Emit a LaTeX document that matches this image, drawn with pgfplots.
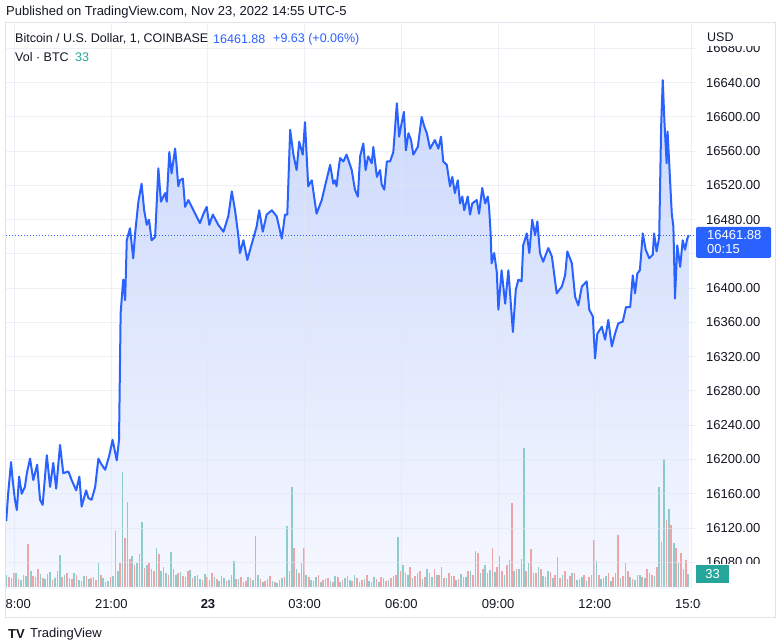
\documentclass[border=0pt]{standalone}
\usepackage{pgfplots}
\pgfplotsset{compat=1.18}
\usepackage{pgfplotstable}
\usepackage{fontspec}
\setmainfont{Liberation Sans}
\definecolor{tvblue}{RGB}{41,98,255}
\definecolor{tvteal}{RGB}{38,166,154}
\definecolor{tvred}{RGB}{239,83,80}
\definecolor{tvtext}{RGB}{19,23,34}
\definecolor{tvgrid}{RGB}{226,230,240}
\definecolor{tvframe}{RGB}{224,227,235}
\definecolor{filltop}{RGB}{203,216,252}
\definecolor{fillbot}{RGB}{246,248,255}

\pgfplotstableread{
h p
-0.26 16128
-0.20 16160
-0.11 16197
-0.06 16176
0.01 16153
0.07 16141
0.14 16180
0.22 16160
0.32 16168
0.38 16184
0.48 16201
0.58 16176
0.70 16194
0.79 16153
0.87 16147
1.00 16205
1.10 16168
1.20 16196
1.29 16166
1.41 16217
1.51 16184
1.67 16186
1.77 16176
1.91 16164
2.01 16180
2.08 16145
2.22 16164
2.29 16155
2.39 16153
2.50 16168
2.60 16201
2.70 16194
2.81 16188
2.94 16205
3.04 16223
3.17 16199
3.24 16223
3.29 16371
3.37 16410
3.43 16386
3.48 16456
3.58 16470
3.68 16435
3.74 16464
3.84 16501
3.94 16522
4.02 16491
4.10 16474
4.17 16480
4.25 16456
4.36 16460
4.46 16540
4.54 16501
4.67 16511
4.72 16501
4.80 16559
4.87 16534
4.98 16563
5.03 16542
5.08 16519
5.13 16526
5.22 16528
5.29 16495
5.39 16503
5.55 16491
5.75 16476
5.86 16487
5.96 16495
6.04 16474
6.15 16486
6.32 16474
6.48 16466
6.63 16484
6.74 16513
6.84 16491
6.94 16462
6.99 16441
7.10 16456
7.22 16433
7.36 16452
7.51 16472
7.59 16491
7.70 16466
7.82 16486
7.98 16491
8.13 16484
8.29 16458
8.39 16486
8.46 16486
8.55 16585
8.65 16556
8.75 16538
8.83 16571
8.94 16556
9.01 16594
9.11 16519
9.22 16526
9.37 16487
9.53 16503
9.63 16519
9.79 16544
9.89 16522
9.94 16526
9.99 16519
10.04 16536
10.10 16552
10.20 16548
10.30 16556
10.46 16538
10.56 16515
10.65 16507
10.72 16554
10.82 16569
10.89 16538
10.97 16554
11.08 16546
11.13 16565
11.24 16530
11.34 16538
11.39 16521
11.47 16515
11.55 16548
11.65 16548
11.75 16559
11.86 16616
11.93 16577
12.01 16593
12.08 16606
12.14 16561
12.22 16581
12.30 16573
12.37 16556
12.51 16565
12.63 16600
12.71 16589
12.79 16581
12.89 16563
13.04 16573
13.15 16563
13.23 16577
13.30 16548
13.41 16544
13.51 16519
13.58 16530
13.66 16511
13.75 16526
13.82 16499
13.89 16507
13.95 16491
14.06 16507
14.13 16486
14.20 16499
14.34 16503
14.41 16487
14.51 16517
14.60 16499
14.68 16507
14.72 16495
14.77 16464
14.80 16429
14.88 16441
14.96 16419
15.01 16375
15.11 16421
15.22 16382
15.32 16421
15.46 16349
15.55 16398
15.63 16410
15.73 16408
15.78 16450
15.89 16464
15.97 16441
16.06 16480
16.15 16462
16.22 16478
16.30 16441
16.40 16431
16.56 16447
16.67 16437
16.82 16394
16.98 16402
17.08 16415
17.15 16443
17.29 16429
17.39 16390
17.49 16380
17.60 16402
17.75 16408
17.83 16375
17.94 16367
18.01 16318
18.08 16347
18.22 16355
18.32 16340
18.42 16363
18.53 16332
18.63 16347
18.73 16359
18.87 16361
18.97 16378
19.10 16378
19.18 16415
19.25 16394
19.32 16417
19.40 16421
19.49 16464
19.58 16445
19.69 16435
19.80 16439
19.84 16464
19.92 16443
20.00 16460
20.06 16589
20.11 16643
20.16 16596
20.23 16546
20.26 16583
20.31 16546
20.39 16487
20.44 16472
20.49 16388
20.56 16450
20.65 16425
20.73 16456
20.80 16445
20.87 16458
20.92 16461.88
}\pricedata

\pgfplotsset{tvbase/.style={at={(6pt,55pt)}, anchor=south west, scale only axis,
  width=690pt, height=566pt, xmin=-0.2668, xmax=21.1418}}

\begin{document}
\begin{tikzpicture}[x=1pt,y=1pt]
\path[use as bounding box, fill=white] (0,0) rectangle (779,644);

% area fill
\begin{axis}[tvbase, ymin=16048.8, ymax=16709.7, hide axis]
\addplot[draw=none, top color=filltop, bottom color=fillbot] table[x=h,y=p]{\pricedata}
  -- (axis cs:20.92,16048.8) -- (axis cs:-0.26,16048.8) -- cycle;
\end{axis}

% volume
\begin{axis}[tvbase, ymin=-5, ymax=1432, hide axis]
\addplot[ycomb, draw=tvteal, opacity=0.5, line width=1.6pt, mark=none] coordinates {
(-0.25,30) (-0.10,22) (0.05,35) (0.20,18) (0.35,28) (0.50,40) (0.65,25) (0.80,32) (0.95,20) (1.10,38) (1.25,24) (1.40,81) (1.55,30) (1.70,22) (1.85,35) (2.00,18) (2.15,27) (2.30,20) (2.45,25) (2.60,61) (2.75,22) (2.90,15) (3.05,28) (3.20,40) (3.35,292) (3.50,216) (3.65,80) (3.80,60) (3.95,165) (4.10,55) (4.25,45) (4.40,99) (4.55,40) (4.70,35) (4.85,89) (5.00,30) (5.15,38) (5.30,25) (5.45,42) (5.60,28) (5.75,20) (5.90,33) (6.05,18) (6.20,25) (6.35,15) (6.50,22) (6.65,18) (6.80,66) (6.95,20) (7.10,14) (7.25,25) (7.40,18) (7.55,30) (7.70,12) (7.85,20) (8.00,15) (8.15,10) (8.30,22) (8.45,155) (8.60,254) (8.75,45) (8.90,61) (9.05,30) (9.20,18) (9.35,25) (9.50,12) (9.65,20) (9.80,15) (9.95,28) (10.10,14) (10.25,22) (10.40,18) (10.55,30) (10.70,12) (10.85,20) (11.00,16) (11.15,25) (11.30,14) (11.45,22) (11.60,18) (11.75,28) (11.90,127) (12.05,56) (12.20,30) (12.35,24) (12.50,35) (12.65,20) (12.80,45) (12.95,25) (13.10,30) (13.25,51) (13.40,22) (13.55,28) (13.70,18) (13.85,32) (14.00,25) (14.15,40) (14.30,91) (14.45,35) (14.60,55) (14.75,42) (14.90,38) (15.05,79) (15.20,30) (15.35,68) (15.50,40) (15.65,45) (15.80,353) (15.95,60) (16.10,35) (16.25,50) (16.40,28) (16.55,40) (16.70,22) (16.85,76) (17.00,30) (17.15,20) (17.30,35) (17.45,18) (17.60,25) (17.75,15) (17.90,30) (18.05,66) (18.20,20) (18.35,28) (18.50,15) (18.65,35) (18.80,22) (18.95,61) (19.10,25) (19.25,18) (19.40,30) (19.55,22) (19.70,35) (19.85,28) (20.00,254) (20.15,325) (20.30,198) (20.45,112) (20.60,60) (20.75,45) (20.90,33)
};
\addplot[ycomb, draw=tvred, opacity=0.5, line width=1.6pt, mark=none] coordinates {
(-0.175,25) (-0.025,35) (0.125,20) (0.275,30) (0.425,110) (0.575,28) (0.725,45) (0.875,22) (1.025,33) (1.175,18) (1.325,40) (1.475,26) (1.625,35) (1.775,20) (1.925,30) (2.075,15) (2.225,28) (2.375,22) (2.525,18) (2.675,30) (2.825,12) (2.975,25) (3.125,142) (3.275,60) (3.425,124) (3.575,70) (3.725,55) (3.875,85) (4.025,48) (4.175,60) (4.325,40) (4.475,84) (4.625,50) (4.775,30) (4.925,45) (5.075,35) (5.225,28) (5.375,40) (5.525,22) (5.675,30) (5.825,18) (5.975,26) (6.125,35) (6.275,20) (6.425,28) (6.575,15) (6.725,30) (6.875,20) (7.025,25) (7.175,16) (7.325,22) (7.475,129) (7.625,20) (7.775,15) (7.925,28) (8.075,12) (8.225,18) (8.375,25) (8.525,40) (8.675,99) (8.825,35) (8.975,99) (9.125,25) (9.275,15) (9.425,30) (9.575,18) (9.725,22) (9.875,14) (10.025,25) (10.175,18) (10.325,28) (10.475,15) (10.625,22) (10.775,18) (10.925,30) (11.075,12) (11.225,20) (11.375,25) (11.525,15) (11.675,22) (11.825,30) (11.975,40) (12.125,35) (12.275,50) (12.425,28) (12.575,40) (12.725,25) (12.875,35) (13.025,45) (13.175,30) (13.325,22) (13.475,35) (13.625,28) (13.775,20) (13.925,25) (14.075,40) (14.225,30) (14.375,86) (14.525,45) (14.675,35) (14.825,99) (14.975,50) (15.125,40) (15.275,55) (15.425,213) (15.575,45) (15.725,70) (15.875,40) (16.025,96) (16.175,35) (16.325,45) (16.475,25) (16.625,38) (16.775,30) (16.925,22) (17.075,40) (17.225,28) (17.375,35) (17.525,20) (17.675,30) (17.825,25) (17.975,119) (18.125,30) (18.275,22) (18.425,35) (18.575,25) (18.725,132) (18.875,28) (19.025,40) (19.175,20) (19.325,30) (19.475,25) (19.625,45) (19.775,30) (19.925,50) (20.075,115) (20.225,170) (20.375,157) (20.525,99) (20.675,86) (20.825,69)
};
\end{axis}

% main axis: grid, labels, line
\begin{axis}[tvbase, ymin=16048.8, ymax=16709.7,
  axis line style={draw=none}, major tick length=0pt,
  grid=major, grid style={tvgrid, line width=1pt, opacity=0.6},
  scaled y ticks=false,
  /pgf/number format/assume math mode=true,
  xtick={0,3,6,9,12,15,18,21},
  xticklabels={18:00,21:00,\textbf{23},03:00,06:00,09:00,12:00,15:00},
  xticklabel style={font=\fontsize{13}{15}\selectfont, text=tvtext, anchor=center, yshift=-15pt},
  ytick={16080,16120,16160,16200,16240,16280,16320,16360,16400,16480,16520,16560,16600,16640,16680},
  extra y ticks={16440}, extra y tick labels={},
  extra y tick style={grid=major, major tick length=0pt},
  yticklabel pos=right,
  yticklabel style={font=\fontsize{13}{15}\selectfont, text=tvtext, anchor=west, inner sep=0pt, xshift=10pt,
    /pgf/number format/fixed, /pgf/number format/fixed zerofill,
    /pgf/number format/precision=2, /pgf/number format/1000 sep={}},
]
\addplot[tvblue, line width=0.9pt, dash pattern=on 1pt off 2pt] coordinates {(-0.2668,16461.88) (21.1418,16461.88)};
\addplot[tvblue, line width=2pt, line join=round, mark=none] table[x=h,y=p]{\pricedata};
\end{axis}

% covers of the price scale and time scale
\fill[white] (697,598) rectangle (776,621);
\fill[white] (697,55) rectangle (776,79.5);
\fill[white] (0,26) rectangle (5.5,55);
\fill[white] (700.5,26) rectangle (776,55);

% frame
\draw[tvframe, line width=1pt] (5.5,26) rectangle (775,621);

% price scale header and labels
\node[anchor=west, inner sep=0pt, text=tvtext, font=\fontsize{12.5}{15}\selectfont] at (707,607) {USD};
\fill[tvblue, rounded corners=1.5pt] (696,386) rectangle (771,417);
\node[anchor=west, inner sep=0pt, text=white, font=\fontsize{13}{15}\selectfont] at (707,408.5) {16461.88};
\node[anchor=west, inner sep=0pt, text=white, font=\fontsize{13}{15}\selectfont] at (707,395) {00:15};
\fill[tvteal] (696,61) rectangle (729,79);
\node[inner sep=0pt, text=white, font=\fontsize{13}{15}\selectfont] at (712.5,70) {33};

% header and legend
\node[anchor=west, inner sep=0pt, text=tvtext, font=\fontsize{13}{15}\selectfont] at (6,632) {Published on TradingView.com, Nov 23, 2022 14:55 UTC-5};
\node[anchor=west, inner sep=0pt, text=tvtext, font=\fontsize{12.5}{15}\selectfont] at (15,605) {Bitcoin / U.S. Dollar, 1, COINBASE};
\node[anchor=west, inner sep=0pt, text=tvblue, font=\fontsize{12.5}{15}\selectfont] at (213,605) {16461.88};
\node[anchor=west, inner sep=0pt, text=tvblue, font=\fontsize{12.5}{15}\selectfont] at (273,605) {+9.63 (+0.06\%)};
\node[anchor=west, inner sep=0pt, text=tvtext, font=\fontsize{12.5}{15}\selectfont] at (15,587) {Vol · BTC};
\node[anchor=west, inner sep=0pt, text=tvteal, font=\fontsize{12.5}{15}\selectfont] at (75,587) {33};

% footer logo
\node[anchor=west, inner sep=0pt, text=tvtext, font=\fontsize{13}{15}\selectfont\bfseries] at (8,10) {TV};
\node[anchor=west, inner sep=0pt, text=tvtext, font=\fontsize{13}{15}\selectfont] at (30,10) {TradingView};
\end{tikzpicture}
\end{document}
